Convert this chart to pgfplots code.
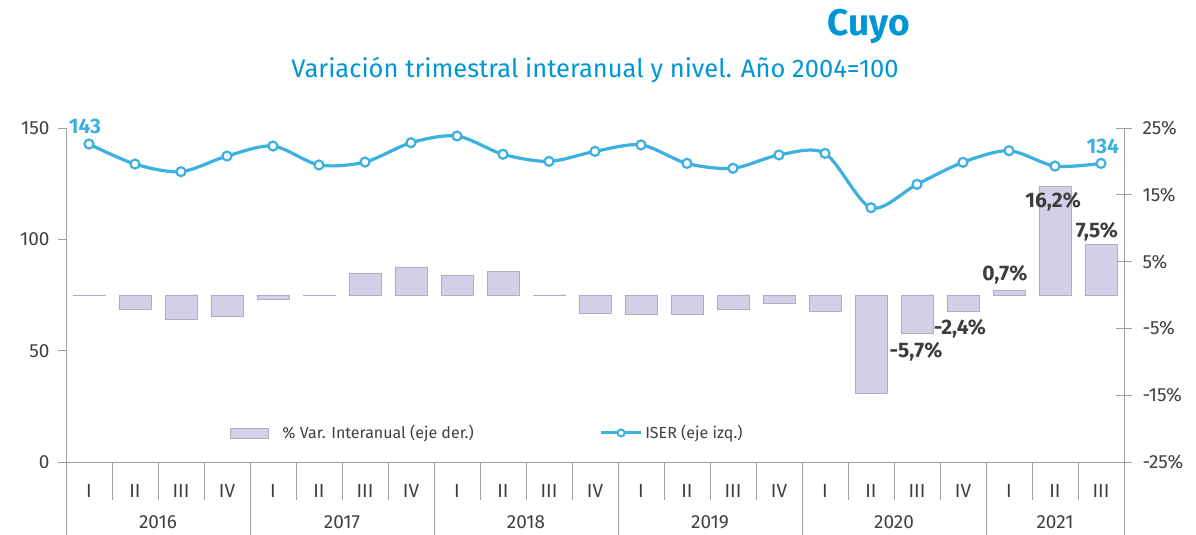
\documentclass[border=0pt]{standalone}
\usepackage{pgfplots}
\pgfplotsset{compat=1.18}
\usepackage{fontspec}
\setmainfont{Fira Sans}
\definecolor{lineblue}{RGB}{60,176,222}
\definecolor{titleblue}{RGB}{0,150,214}
\definecolor{barfill}{RGB}{211,207,230}
\definecolor{bardraw}{RGB}{178,173,198}
\definecolor{axisgray}{RGB}{160,160,160}
\definecolor{labelgray}{RGB}{64,64,64}
\definecolor{darklab}{RGB}{60,60,60}
\begin{document}
\begin{tikzpicture}[x=1pt,y=1pt]
\path[use as bounding box] (-66,-73) rectangle (1130,462);
% bars (right axis)
\begin{axis}[
  at={(0,0)}, anchor=south west, scale only axis, width=1058pt, height=334pt,
  xmin=-0.5, xmax=22.5, ymin=-25, ymax=25,
  hide x axis, axis y line*=right,
  ytick={-25,-15,-5,5,15,25},
  yticklabel={\pgfmathprintnumber{\tick}\%},
  /pgf/number format/assume math mode=true,
  tick align=center, major tick length=16pt,
  tick style={draw=axisgray, line width=0.9pt},
  axis line style={draw=axisgray, line width=0.9pt},
  yticklabel style={font=\fontsize{19}{22}\selectfont, text=labelgray, xshift=7pt},
]
\addplot[ybar, bar width=32pt, fill=barfill, draw=bardraw, line width=0.8pt] coordinates {
(0,-0.1) (1,-2.1) (2,-3.6) (3,-3.2) (4,-0.7) (5,-0.1) (6,3.3) (7,4.2)
(8,3.0) (9,3.5) (10,-0.1) (11,-2.7) (12,-2.9) (13,-2.9) (14,-2.1) (15,-1.2)
(16,-2.4) (17,-14.8) (18,-5.8) (19,-2.4) (20,0.7) (21,16.3) (22,7.5)};
\end{axis}
% line (left axis)
\begin{axis}[
  at={(0,0)}, anchor=south west, scale only axis, width=1058pt, height=334pt,
  xmin=-0.5, xmax=22.5, ymin=0, ymax=150,
  axis x line*=bottom, axis y line*=left,
  ytick={0,50,100,150},
  xtick={0,...,22},
  xticklabels={I,II,III,IV,I,II,III,IV,I,II,III,IV,I,II,III,IV,I,II,III,IV,I,II,III},
  /pgf/number format/assume math mode=true,
  tick align=outside, major tick length=8pt,
  tick style={draw=axisgray, line width=0.9pt},
  x tick style={draw=none},
  axis line style={draw=axisgray, line width=0.9pt},
  yticklabel style={font=\fontsize{19}{22}\selectfont, text=labelgray, xshift=-5pt},
  xticklabel style={font=\fontsize{19}{22}\selectfont, text=labelgray, anchor=center, yshift=-21pt},
  clip=false,
  legend style={at={(0.155,0.087)}, anchor=west, draw=none, fill=none, inner sep=0pt,
    font=\fontsize{16}{19}\selectfont, text=labelgray,
    /tikz/every even column/.append style={column sep=124pt}},
  legend columns=2, legend cell align=left,
]
\addlegendimage{legend image code/.code={\fill[barfill, draw=bardraw] (0pt,-5pt) rectangle (38pt,5pt); \path[draw=none,fill=none] (50pt,0pt) circle (0.1pt);}}
\addlegendentry{\% Var. Interanual (eje der.)}
\addplot[smooth, tension=0.5, color=lineblue, line width=3.2pt,
  mark=*, mark size=4.5pt, mark options={fill=white, draw=lineblue, line width=2.2pt},
  legend image code/.code={\draw[lineblue, line width=3pt] (0pt,0pt) -- (40pt,0pt);
     \filldraw[draw=lineblue, fill=white, line width=2pt] (20pt,0pt) circle (3.5pt);
     \path[draw=none,fill=none] (42pt,0pt) circle (0.1pt);}]
 coordinates {
(0,142.8) (1,133.8) (2,130.4) (3,137.4) (4,141.9) (5,133.4) (6,134.7) (7,143.4)
(8,146.4) (9,138.2) (10,135.0) (11,139.5) (12,142.4) (13,134.1) (14,131.9) (15,137.9)
(16,138.6) (17,114.2) (18,124.7) (19,134.6) (20,139.8) (21,132.9) (22,134.1)};
\addlegendentry{ISER (eje izq.)}
% separators
\pgfplotsinvokeforeach{0.5,1.5,2.5,4.5,5.5,6.5,8.5,9.5,10.5,12.5,13.5,14.5,16.5,17.5,18.5,20.5,21.5}{
  \draw[axisgray, line width=0.9pt] (axis cs:#1,0) -- ++(0pt,-38pt);}
\pgfplotsinvokeforeach{-0.5,3.5,7.5,11.5,15.5,19.5,22.5}{
  \draw[axisgray, line width=0.9pt] (axis cs:#1,0) -- ++(0pt,-73pt);}
% years
\node[font=\fontsize{19}{22}\selectfont, text=labelgray] at (axis cs:1.5,0) [yshift=-60pt] {2016};
\node[font=\fontsize{19}{22}\selectfont, text=labelgray] at (axis cs:5.5,0) [yshift=-60pt] {2017};
\node[font=\fontsize{19}{22}\selectfont, text=labelgray] at (axis cs:9.5,0) [yshift=-60pt] {2018};
\node[font=\fontsize{19}{22}\selectfont, text=labelgray] at (axis cs:13.5,0) [yshift=-60pt] {2019};
\node[font=\fontsize{19}{22}\selectfont, text=labelgray] at (axis cs:17.5,0) [yshift=-60pt] {2020};
\node[font=\fontsize{19}{22}\selectfont, text=labelgray] at (axis cs:21,0) [yshift=-60pt] {2021};
% value labels
\node[font=\bfseries\fontsize{21}{24}\selectfont, text=lineblue] at (axis cs:-0.09,150.9) {143};
\node[font=\bfseries\fontsize{21}{24}\selectfont, text=lineblue] at (axis cs:22.04,141.9) {134};
\node[font=\bfseries\fontsize{21}{24}\selectfont, text=darklab] at (axis cs:20.96,116.8) {16,2\%};
\node[font=\bfseries\fontsize{21}{24}\selectfont, text=darklab] at (axis cs:21.91,103.3) {7,5\%};
\node[font=\bfseries\fontsize{21}{24}\selectfont, text=darklab] at (axis cs:19.91,84.0) {0,7\%};
\node[font=\bfseries\fontsize{21}{24}\selectfont, text=darklab] at (axis cs:17.98,49.4) {-5,7\%};
\node[font=\bfseries\fontsize{21}{24}\selectfont, text=darklab] at (axis cs:18.93,59.7) {-2,4\%};
\end{axis}
% titles
\node[font=\bfseries\fontsize{37}{40}\selectfont, text=titleblue] at (803,436) {Cuyo};
\node[font=\fontsize{25.5}{28}\selectfont, text=titleblue] at (529,392) {Variación trimestral interanual y nivel. Año 2004=100};
\end{tikzpicture}
\end{document}
